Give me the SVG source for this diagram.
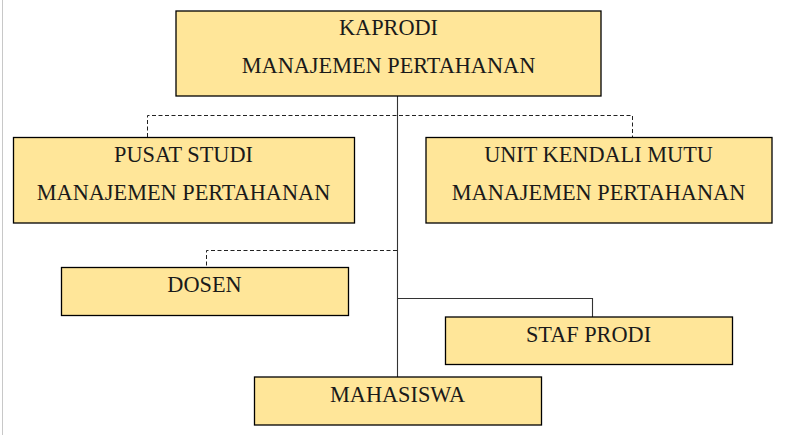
<svg xmlns="http://www.w3.org/2000/svg" width="788" height="435" viewBox="0 0 788 435">
<style>
.box{fill:#FFE699;stroke:#000;stroke-width:1.3}
.t{font-family:"Liberation Serif","Times New Roman",serif;font-size:22.3px;fill:#1a1a1a;text-anchor:middle}
.solid{fill:none;stroke:#333;stroke-width:1.1}
.dash{fill:none;stroke:#222;stroke-width:1;stroke-dasharray:4 2.5}
</style>
<rect width="788" height="435" fill="#fff"/>
<line x1="2.5" y1="0" x2="2.5" y2="435" stroke="#c8c8c8" stroke-width="1"/>
<g id="connectors">
<path class="solid" d="M397.5 96 V377"/>
<path class="solid" d="M397.5 298.5 H592.5 V317"/>
<path class="dash" d="M147.5 137 V115.5 H632.5 V137"/>
<path class="dash" d="M397 250.5 H206.5 V267"/>
</g>
<g id="kaprodi">
<rect class="box" x="176" y="11" width="425" height="85"/>
<text class="t" x="388.5" y="35">KAPRODI</text>
<text class="t" x="388.5" y="73">MANAJEMEN PERTAHANAN</text>
</g>
<g id="pusat-studi">
<rect class="box" x="13.5" y="137.5" width="341" height="85.5"/>
<text class="t" x="183.5" y="162">PUSAT STUDI</text>
<text class="t" x="183.5" y="200">MANAJEMEN PERTAHANAN</text>
</g>
<g id="unit-kendali-mutu">
<rect class="box" x="426" y="137.5" width="346" height="85.5"/>
<text class="t" x="598.5" y="162">UNIT KENDALI MUTU</text>
<text class="t" x="598.5" y="200">MANAJEMEN PERTAHANAN</text>
</g>
<g id="dosen">
<rect class="box" x="61.5" y="267.5" width="287" height="48"/>
<text class="t" x="204.5" y="292">DOSEN</text>
</g>
<g id="staf-prodi">
<rect class="box" x="445.5" y="317" width="287" height="47.5"/>
<text class="t" x="588.5" y="342">STAF PRODI</text>
</g>
<g id="mahasiswa">
<rect class="box" x="254.5" y="377" width="287" height="48"/>
<text class="t" x="397.5" y="402">MAHASISWA</text>
</g>
</svg>
